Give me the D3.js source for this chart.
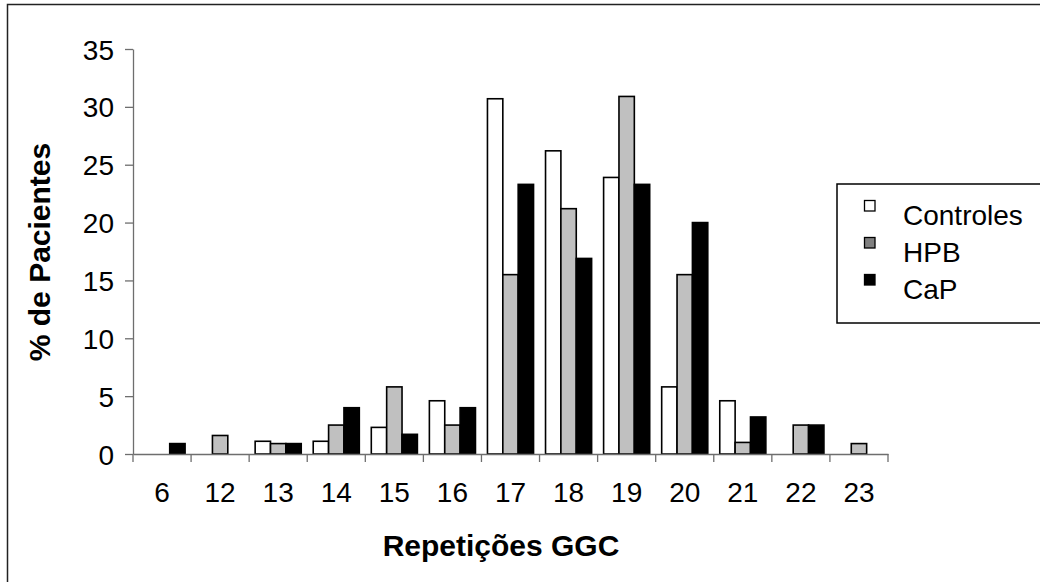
<!DOCTYPE html>
<meta charset="utf-8">
<style>
    body { margin: 0; background: #fff; }
    text { font-family: "Liberation Sans", Arial, sans-serif; fill: #000; }
    .axis text { font-size: 28px; }
    .axis path, .axis line { stroke: #6e6e6e; stroke-width: 1.3; }
    .title { font-size: 30px; font-weight: bold; }
    .legend text { font-size: 28px; }
</style>
<svg width="1040" height="582"></svg>
<script src="https://d3js.org/d3.v7.min.js"></script>
<script>

    var categories = ["6", "12", "13", "14", "15", "16", "17", "18", "19", "20", "21", "22", "23"];
    var series = ["Controles", "HPB", "CaP"];
    var controles = [0, 0, 1.1, 1.1, 2.3, 4.6, 30.7, 26.2, 23.9, 5.8, 4.6, 0, 0];
    var hpb = [0, 1.6, 0.9, 2.5, 5.8, 2.5, 15.5, 21.2, 30.9, 15.5, 1.0, 2.5, 0.9];
    var cap = [0.9, 0, 0.9, 4.0, 1.7, 4.0, 23.3, 16.9, 23.3, 20.0, 3.2, 2.5, 0];
    var yTicks = [0, 5, 10, 15, 20, 25, 30, 35];

    var fills = { "Controles": "#ffffff", "HPB": "#c0c0c0", "CaP": "#000000" };
    var legendFills = { "Controles": "#ffffff", "HPB": "#808080", "CaP": "#000000" };
    var values = { "Controles": controles, "HPB": hpb, "CaP": cap };

    var svg = d3.select("svg");

    // outer chart frame (right/bottom edges run off the picture)
    svg.append("rect")
        .attr("x", 7.5).attr("y", 4.5)
        .attr("width", 1100).attr("height", 700)
        .attr("fill", "none")
        .attr("stroke", "#222")
        .attr("stroke-width", 1.5);

    var plotLeft = 133, plotRight = 888, plotTop = 49, plotBottom = 454;

    var x = d3.scaleBand()
        .domain(categories)
        .range([plotLeft, plotRight])
        .padding(0);

    var x1 = d3.scaleBand()
        .domain(series)
        .range([0, x.bandwidth()])
        .paddingInner(0)
        .paddingOuter(0.39);

    var y = d3.scaleLinear()
        .domain([0, 35])
        .range([plotBottom, plotTop]);

    // bars
    var rows = [];
    categories.forEach(function(c, i) {
        series.forEach(function(s) {
            if (values[s][i] > 0) rows.push({ cat: c, s: s, v: values[s][i] });
        });
    });

    svg.append("g")
        .selectAll("rect")
        .data(rows)
        .enter().append("rect")
        .attr("x", function(d) { return x(d.cat) + x1(d.s); })
        .attr("y", function(d) { return y(d.v); })
        .attr("width", x1.bandwidth())
        .attr("height", function(d) { return y(0) - y(d.v); })
        .attr("fill", function(d) { return fills[d.s]; })
        .attr("stroke", "#000")
        .attr("stroke-width", 1.6);

    // y axis
    svg.append("g")
        .attr("class", "axis")
        .attr("transform", "translate(" + plotLeft + ",0)")
        .call(d3.axisLeft(y).tickValues(yTicks).tickSize(8).tickPadding(11).tickSizeOuter(0))
        .selectAll("text").attr("dy", "0.36em");

    // x axis: labels centred in bands, ticks at band edges
    var xAxis = svg.append("g")
        .attr("class", "axis")
        .attr("transform", "translate(0," + plotBottom + ")")
        .call(d3.axisBottom(x).tickSize(0).tickPadding(40).tickSizeOuter(0));
    xAxis.selectAll("text").attr("dy", "0.3em");

    var edges = categories.map(function(c) { return x(c); }).concat([plotRight]);
    xAxis.selectAll(".edge")
        .data(edges)
        .enter().append("line")
        .attr("class", "edge")
        .attr("x1", function(d) { return d; })
        .attr("x2", function(d) { return d; })
        .attr("y1", 0).attr("y2", 8);

    // axis titles
    svg.append("text")
        .attr("class", "title")
        .attr("x", 501).attr("y", 556)
        .attr("text-anchor", "middle")
        .text("Repetições GGC");

    svg.append("text")
        .attr("class", "title")
        .attr("transform", "translate(50,252) rotate(-90)")
        .attr("text-anchor", "middle")
        .text("% de Pacientes");

    // legend
    var legend = svg.append("g").attr("class", "legend");
    legend.append("rect")
        .attr("x", 837).attr("y", 184)
        .attr("width", 300).attr("height", 139)
        .attr("fill", "#fff")
        .attr("stroke", "#000")
        .attr("stroke-width", 1.5);

    var item = legend.selectAll(".item")
        .data(series)
        .enter().append("g")
        .attr("class", "item")
        .attr("transform", function(d, i) { return "translate(0," + (i * 37) + ")"; });

    item.append("rect")
        .attr("x", 864.5).attr("y", 200.5)
        .attr("width", 10.5).attr("height", 10.5)
        .attr("fill", function(d) { return legendFills[d]; })
        .attr("stroke", "#000")
        .attr("stroke-width", 1.3);

    item.append("text")
        .attr("x", 903).attr("y", 225)
        .text(function(d) { return d; });

</script>
